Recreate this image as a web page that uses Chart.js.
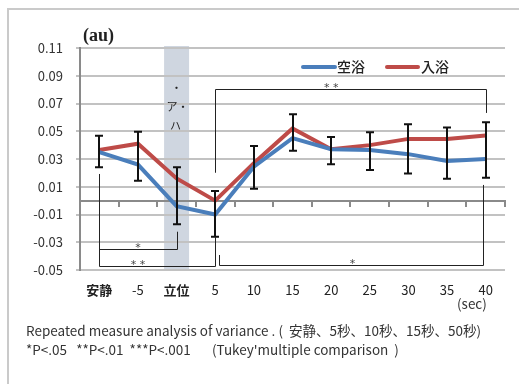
<!DOCTYPE html>
<html>
<head>
<meta charset="utf-8">
<script src="https://cdn.jsdelivr.net/npm/chart.js@4"></script>
<style>
body { margin: 0; background: #fff; }
#wrap { position: relative; width: 519px; height: 384px; overflow: hidden; font-family: "Noto Sans CJK JP", sans-serif; }
#frame { position: absolute; left: 7px; top: 8px; width: 600px; height: 500px; border: 2px solid #cacaca; }
canvas { position: absolute; left: 0; top: 0; }
.t { position: absolute; white-space: pre; color: #333; line-height: 1; }
</style>
</head>
<body>
<div id="wrap">
  <div id="frame"></div>
  <canvas id="chart" width="519" height="384"></canvas>
  <div class="t" style="left:83px;top:25px;font:bold 18px 'Liberation Serif',serif;color:#222">(au)</div>
  <div class="t" style="left:457px;top:297px;font-size:13.5px">(sec)</div>
  <div class="t" style="left:26px;top:324px;font-size:13.5px">Repeated measure analysis of variance . (  安静、5秒、10秒、15秒、50秒)</div>
  <div class="t" style="left:26px;top:343px;font-size:13.5px">*P&lt;.05   **P&lt;.01  ***P&lt;.001       (Tukey'multiple comparison  )</div>
</div>
<script>
const categories = ['安静', '-5', '立位', '5', '10', '15', '20', '25', '30', '35', '40'];
const airBath = [0.035, 0.026, -0.004, -0.010, 0.0245, 0.045, 0.037, 0.0365, 0.0335, 0.0285, 0.030];
const bathing = [0.0365, 0.041, 0.016, 0.000, 0.027, 0.052, 0.037, 0.040, 0.0445, 0.0445, 0.047];
// one-sided error bars: bathing upward, air bath downward
const bathingErr = [0.0103, 0.0087, 0.008, 0.0069, 0.0124, 0.0103, 0.0089, 0.0092, 0.0106, 0.0082, 0.0095];
const airBathErr = [0.011, 0.0116, 0.0131, 0.016, 0.016, 0.0091, 0.0108, 0.0144, 0.0139, 0.0128, 0.0135];
const yMin = -0.05;
const yMax = 0.11;
const yStep = 0.02;
const standingIndex = 2;
// significance brackets (category index, y values)
const brackets = [
    { from: 3, to: 10, level: 0.0805, fromEnd: 0.0201, toEnd: 0.0632, labelAt: 6, label: '* *' },
    { from: 0, to: 2, level: -0.0351, fromEnd: 0.0192, toEnd: -0.0224, labelAt: 1, label: '*' },
    { from: 0, to: 3, level: -0.0471, fromEnd: 0.0192, toEnd: -0.0262, labelAt: 1, label: '* *' },
    { from: 3, to: 10, level: -0.0464, fromEnd: -0.0392, toEnd: 0.0113, labelAt: 6.55, label: '*' }
];

const blue = '#4a7ebb';
const red = '#be4b48';

const bandPlugin = {
    id: 'band',
    beforeDraw(chart) {
        const { ctx, chartArea, scales } = chart;
        const x = scales.x.getPixelForValue(standingIndex);
        ctx.save();
        ctx.fillStyle = '#cfd6e0';
        ctx.fillRect(x - 12.5, chartArea.top - 2, 25, chartArea.bottom - chartArea.top + 2);
        ctx.restore();
    }
};

const extrasPlugin = {
    id: 'extras',
    afterDatasetsDraw(chart) {
        const { ctx, scales } = chart;
        const x = scales.x, y = scales.y;
        ctx.save();
        // error bars
        ctx.strokeStyle = '#111';
        ctx.lineWidth = 2;
        for (let i = 0; i < categories.length; i++) {
            const px = Math.round(x.getPixelForValue(i));
            const top = y.getPixelForValue(bathing[i] + bathingErr[i]);
            const bot = y.getPixelForValue(airBath[i] - airBathErr[i]);
            ctx.beginPath();
            ctx.moveTo(px, top); ctx.lineTo(px, bot);
            ctx.moveTo(px - 4, top); ctx.lineTo(px + 4, top);
            ctx.moveTo(px - 4, bot); ctx.lineTo(px + 4, bot);
            ctx.stroke();
        }
        // brackets
        ctx.strokeStyle = '#222';
        ctx.lineWidth = 1;
        ctx.fillStyle = '#444';
        ctx.font = '11px "DejaVu Sans"';
        ctx.textAlign = 'center';
        brackets.forEach((b, k) => {
            const nudge = k === 3 ? [4, -3] : [0, 0];
            const x1 = Math.round(x.getPixelForValue(b.from)) + nudge[0] + 0.5;
            const x2 = Math.round(x.getPixelForValue(b.to)) + nudge[1] + 0.5;
            const yl = Math.round(y.getPixelForValue(b.level)) + 0.5;
            ctx.beginPath();
            ctx.moveTo(x1, y.getPixelForValue(b.fromEnd));
            ctx.lineTo(x1, yl);
            ctx.lineTo(x2, yl);
            ctx.lineTo(x2, y.getPixelForValue(b.toEnd));
            ctx.stroke();
            ctx.fillText(b.label, x.getPixelForValue(b.labelAt), yl + 1);
        });
        // vertical text in the standing band
        const bx = x.getPixelForValue(standingIndex);
        ctx.fillStyle = '#222';
        ctx.font = '11px "Noto Sans CJK JP"';
        ctx.textBaseline = 'middle';
        ctx.fillText('・', bx, 88);
        ctx.fillText('ア・', bx + 1, 107);
        ctx.fillText('ハ', bx - 1, 126);
        ctx.restore();
    },
    afterDraw(chart) {
        const { ctx } = chart;
        const items = [[303, 335, 337], [387, 418, 421]];
        ctx.save();
        ctx.font = '500 14px "Noto Sans CJK JP"';
        ctx.textBaseline = 'middle';
        chart.data.datasets.forEach((ds, i) => {
            const [a, b, t] = items[i];
            ctx.strokeStyle = ds.borderColor;
            ctx.lineWidth = 4;
            ctx.lineCap = 'round';
            ctx.beginPath();
            ctx.moveTo(a, 67); ctx.lineTo(b, 67);
            ctx.stroke();
            ctx.fillStyle = '#222';
            ctx.fillText(ds.label, t, 67);
        });
        ctx.restore();
    }
};

new Chart(document.getElementById('chart'), {
    type: 'line',
    data: {
        labels: categories,
        datasets: [{
            label: '空浴',
            data: airBath,
            borderColor: blue,
            borderWidth: 4,
            pointRadius: 0,
            tension: 0
        }, {
            label: '入浴',
            data: bathing,
            borderColor: red,
            borderWidth: 4,
            pointRadius: 0,
            tension: 0
        }]
    },
    options: {
        responsive: false,
        animation: false,
        layout: { padding: { left: 0, top: 48, right: 14, bottom: 84 } },
        plugins: { legend: { display: false }, tooltip: { enabled: false } },
        scales: {
            x: {
                offset: true,
                grid: { display: false, drawTicks: false },
                border: { display: false },
                ticks: {
                    padding: 12,
                    color: '#222',
                    maxRotation: 0,
                    autoSkip: false,
                    font: ctx => ({
                        family: '"Noto Sans CJK JP"',
                        size: 13,
                        weight: isNaN(Number(categories[ctx.index])) ? 'bold' : 'normal'
                    })
                },
                afterFit: s => { s.height = 30; }
            },
            zero: {
                type: 'category',
                axis: 'x',
                position: { y: 0 },
                offset: true,
                ticks: { display: false },
                grid: { drawOnChartArea: false, offset: true, tickLength: 5, color: '#8a8a8a', lineWidth: 2 },
                border: { color: '#8a8a8a', width: 2 }
            },
            y: {
                min: yMin,
                max: yMax,
                ticks: {
                    stepSize: yStep,
                    padding: 13,
                    color: '#333',
                    font: { family: '"Noto Sans CJK JP"', size: 13 },
                    callback: v => v.toFixed(2)
                },
                grid: { color: '#c2c2c2', lineWidth: 2, tickLength: 4 },
                border: { color: '#8a8a8a', width: 2 },
                afterFit: s => { s.width = 80; }
            }
        }
    },
    plugins: [bandPlugin, extrasPlugin]
});
</script>
</body>
</html>
